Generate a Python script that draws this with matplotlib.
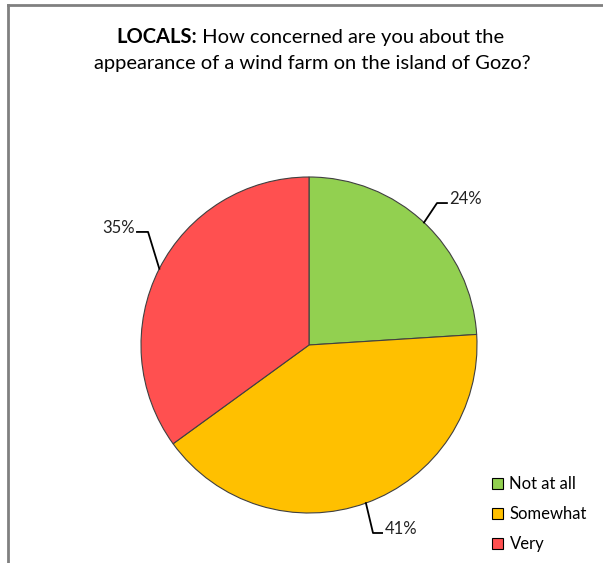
import numpy as np
import matplotlib
matplotlib.use('Agg')
import matplotlib.pyplot as plt
from matplotlib.patches import Patch
from matplotlib.lines import Line2D

plt.rcParams['font.family'] = ['Lato', 'DejaVu Sans']

# dados do grafico
categorias = ['Not at all', 'Somewhat', 'Very']
valores = [24, 41, 35]
cores = ['#92D050', '#FFC000', '#FF5050']
titulo_negrito = 'LOCALS:'
titulo_l1 = ' How concerned are you about the'
titulo_l2 = 'appearance of a wind farm on the island of Gozo?'

W, H = 603, 563
fig = plt.figure(figsize=(W / 100, H / 100), dpi=100)

# moldura (so topo e esquerda aparecem no recorte)
fig.add_artist(Line2D([7.5 / W, 7.5 / W], [0, 1 - 4.5 / H], color='#808080', lw=2))
fig.add_artist(Line2D([7.5 / W, 1], [1 - 4.5 / H, 1 - 4.5 / H], color='#808080', lw=2))

# titulo: parte em negrito + parte normal, centralizado junto
tam = 14.5
renderer = fig.canvas.get_renderer()
tb = fig.text(0, 1 - 37 / H, titulo_negrito, ha='left', va='center', fontsize=tam, fontweight='bold')
tn = fig.text(0, 1 - 37 / H, titulo_l1, ha='left', va='center', fontsize=tam)
wb = tb.get_window_extent(renderer).width
wn = tn.get_window_extent(renderer).width
x0 = 310 - (wb + wn) / 2
tb.set_x(x0 / W)
tn.set_x((x0 + wb) / W)
fig.text(312 / W, 1 - 64 / H, titulo_l2, ha='center', va='center', fontsize=tam)

# pizza
cx, cy, r = 309, 345, 168
ax = fig.add_axes([(cx - r) / W, 1 - (cy + r) / H, 2 * r / W, 2 * r / H])
wedges, _ = ax.pie(valores, colors=cores, startangle=90, counterclock=False,
                   radius=1, wedgeprops=dict(edgecolor='#404040', linewidth=0.8))
ax.set_xlim(-1, 1)
ax.set_ylim(-1, 1)
ax.set_aspect('equal')
ax.axis('off')

# rotulos com linhas de chamada (cotovelo, fim da linha, lado do texto)
chamadas = [
  ((0.762, 0.845), (0.821, 0.845), 'left'),
  ((0.381, -1.119), (0.435, -1.119), 'left'),
  ((-0.958, 0.673), (-1.024, 0.673), 'right'),
]
for w, v, (cot, fim, lado) in zip(wedges, valores, chamadas):
  ang = np.deg2rad((w.theta1 + w.theta2) / 2)
  xa, ya = np.cos(ang), np.sin(ang)
  ax.plot([xa, cot[0], fim[0]], [ya, cot[1], fim[1]], color='black', lw=1.3, clip_on=False)
  dx = 0.015 if lado == 'left' else -0.015
  ax.text(fim[0] + dx, fim[1] - 0.005, f'{v}%', ha=lado, va='baseline', fontsize=12, color='#222222')

# legenda
handles = [Patch(facecolor=c, edgecolor='black', linewidth=0.8) for c in cores]
fig.legend(handles, categorias, loc='upper left', bbox_to_anchor=(492 / W, 1 - 476 / H),
           frameon=False, fontsize=12, handlelength=0.65, handleheight=0.65,
           handletextpad=0.4, labelspacing=0.85, borderpad=0, borderaxespad=0)

fig.savefig('out.png', dpi=100)
